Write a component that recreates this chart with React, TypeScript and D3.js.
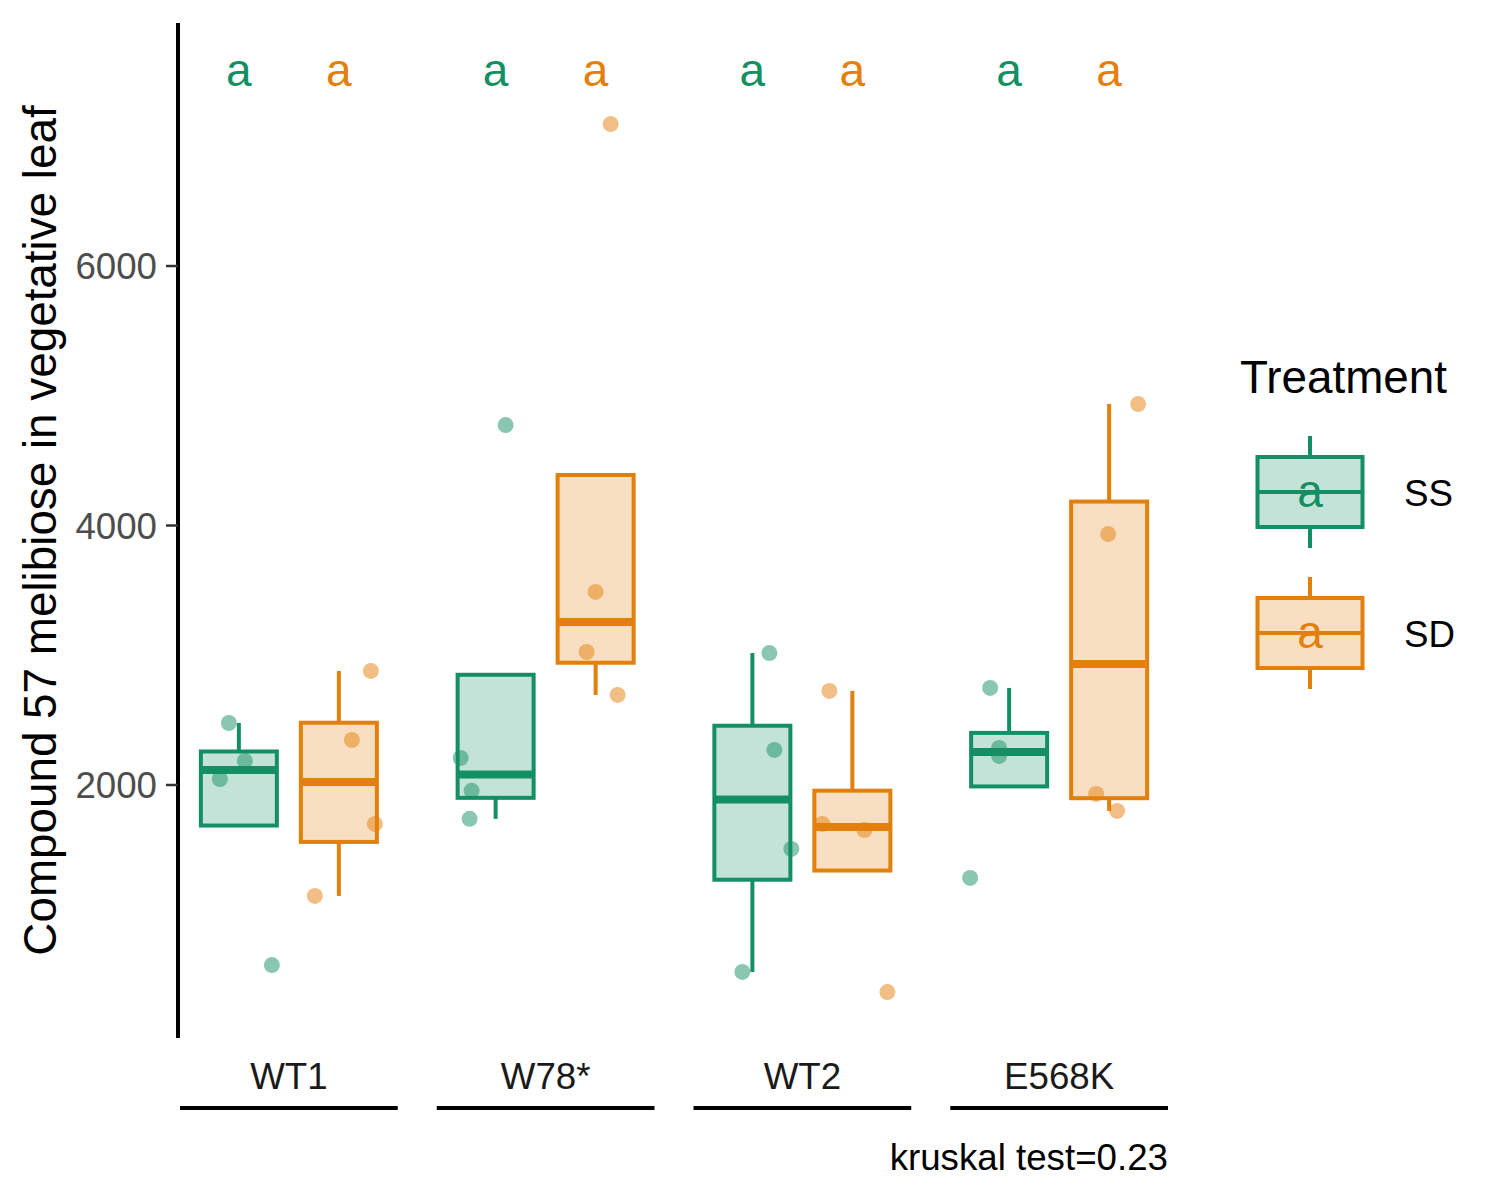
import React, { useEffect, useRef } from 'react';
import * as d3 from 'd3';

const genotypes = ['WT1', 'W78*', 'WT2', 'E568K'];
const treatments = ['SS', 'SD'];
const treatmentColors = ['#148F63', '#E37F0B'];
const yTicks = [2000, 4000, 6000];
const ssLetters = ['a', 'a', 'a', 'a'];
const sdLetters = ['a', 'a', 'a', 'a'];
const letterY = 7500;
const kruskalLabel = 'kruskal test=0.23';
const yTitle = 'Compound 57 melibiose in vegetative leaf';
const legendTitle = 'Treatment';

// four plants per genotype x treatment
const ssValues = [
  [2478, 2185, 2046, 612],
  [4774, 2208, 1955, 1739],
  [3017, 2270, 1507, 559],
  [2748, 2286, 2224, 1284],
];
const sdValues = [
  [2879, 2347, 1700, 1145],
  [3488, 3025, 2694, 7094],
  [2725, 1700, 1653, 404],
  [4936, 3934, 1931, 1800],
];
// horizontal jitter of each point, as a fraction of the dodge width
const ssJitter = [
  [-0.1, 0.06, -0.19, 0.33],
  [0.1, -0.35, -0.24, -0.26],
  [0.17, 0.22, 0.39, -0.1],
  [-0.19, -0.1, -0.1, -0.39],
];
const sdJitter = [
  [0.32, 0.13, 0.36, -0.24],
  [0.0, -0.09, 0.22, 0.15],
  [-0.23, -0.3, 0.12, 0.35],
  [0.29, -0.01, -0.13, 0.08],
];

const FONT = "'Liberation Sans', Arial, Helvetica, sans-serif";

function boxStats(values: number[]) {
  const s = values.slice().sort(d3.ascending);
  const q1 = d3.quantileSorted(s, 0.25) as number;
  const med = d3.quantileSorted(s, 0.5) as number;
  const q3 = d3.quantileSorted(s, 0.75) as number;
  const iqr = q3 - q1;
  const inside = s.filter(v => v >= q1 - 1.5 * iqr && v <= q3 + 1.5 * iqr);
  return { q1, med, q3, lo: d3.min(inside) as number, hi: d3.max(inside) as number };
}

export default function App() {
  const ref = useRef<SVGSVGElement>(null);

  useEffect(() => {
    const svg = d3.select(ref.current);
    svg.selectAll('*').remove();

    const x = d3.scaleBand<string>().domain(genotypes).range([180, 1168]).paddingInner(0.152);
    const dodge = d3
      .scaleBand<string>()
      .domain(treatments)
      .range([0, x.bandwidth()])
      .paddingInner(0)
      .paddingOuter(0.0886);
    const y = d3.scaleLinear().domain([50, 7873]).range([1038, 23]);
    const color = d3.scaleOrdinal<string, string>().domain(treatments).range(treatmentColors);
    const boxW = dodge.bandwidth() * 0.76;

    const groups = genotypes.flatMap((g, gi) =>
      treatments.map((t, ti) => {
        const vals = ti === 0 ? ssValues[gi] : sdValues[gi];
        const jit = ti === 0 ? ssJitter[gi] : sdJitter[gi];
        return {
          g,
          t,
          cx: (x(g) as number) + (dodge(t) as number) + dodge.bandwidth() / 2,
          stats: boxStats(vals),
          points: vals.map((v, i) => ({ v, j: jit[i] })),
          letter: ti === 0 ? ssLetters[gi] : sdLetters[gi],
        };
      })
    );

    // y axis
    const yAxis = svg.append('g');
    yAxis
      .append('line')
      .attr('x1', 178)
      .attr('x2', 178)
      .attr('y1', y.range()[0])
      .attr('y2', y.range()[1])
      .attr('stroke', '#000')
      .attr('stroke-width', 4);
    const ticks = yAxis.selectAll('g.tick').data(yTicks).enter().append('g');
    ticks
      .append('line')
      .attr('x1', 166)
      .attr('x2', 178)
      .attr('y1', d => y(d))
      .attr('y2', d => y(d))
      .attr('stroke', '#333')
      .attr('stroke-width', 2.5);
    ticks
      .append('text')
      .attr('x', 157)
      .attr('y', d => y(d))
      .attr('dy', '0.36em')
      .attr('text-anchor', 'end')
      .attr('font-family', FONT)
      .attr('font-size', 36.7)
      .attr('fill', '#4D4D4D')
      .text(d => d);

    svg
      .append('text')
      .attr('transform', `translate(56, ${(y.range()[0] + y.range()[1]) / 2}) rotate(-90)`)
      .attr('text-anchor', 'middle')
      .attr('font-family', FONT)
      .attr('font-size', 45.8)
      .attr('fill', '#000')
      .text(yTitle);

    // boxes
    const box = svg.selectAll('g.box').data(groups).enter().append('g');
    box
      .filter(d => d.stats.hi > d.stats.q3)
      .append('line')
      .attr('x1', d => d.cx)
      .attr('x2', d => d.cx)
      .attr('y1', d => y(d.stats.q3))
      .attr('y2', d => y(d.stats.hi))
      .attr('stroke', d => color(d.t))
      .attr('stroke-width', 4);
    box
      .filter(d => d.stats.lo < d.stats.q1)
      .append('line')
      .attr('x1', d => d.cx)
      .attr('x2', d => d.cx)
      .attr('y1', d => y(d.stats.q1))
      .attr('y2', d => y(d.stats.lo))
      .attr('stroke', d => color(d.t))
      .attr('stroke-width', 4);
    box
      .append('rect')
      .attr('x', d => d.cx - boxW / 2)
      .attr('width', boxW)
      .attr('y', d => y(d.stats.q3))
      .attr('height', d => y(d.stats.q1) - y(d.stats.q3))
      .attr('fill', d => color(d.t))
      .attr('fill-opacity', 0.25)
      .attr('stroke', d => color(d.t))
      .attr('stroke-width', 4);
    box
      .append('line')
      .attr('x1', d => d.cx - boxW / 2)
      .attr('x2', d => d.cx + boxW / 2)
      .attr('y1', d => y(d.stats.med))
      .attr('y2', d => y(d.stats.med))
      .attr('stroke', d => color(d.t))
      .attr('stroke-width', 8);

    // jittered points
    box
      .selectAll('circle')
      .data(d => d.points.map(p => ({ ...p, cx: d.cx, t: d.t })))
      .enter()
      .append('circle')
      .attr('cx', p => p.cx + p.j * dodge.step())
      .attr('cy', p => y(p.v))
      .attr('r', 8)
      .attr('fill', p => color(p.t))
      .attr('fill-opacity', 0.5);

    // letters
    svg
      .selectAll('text.letter')
      .data(groups)
      .enter()
      .append('text')
      .attr('x', d => d.cx)
      .attr('y', y(letterY))
      .attr('dy', '0.32em')
      .attr('text-anchor', 'middle')
      .attr('font-family', FONT)
      .attr('font-size', 46)
      .attr('fill', d => color(d.t))
      .text(d => d.letter);

    // genotype labels + underline
    const lab = svg.selectAll('g.lab').data(genotypes).enter().append('g');
    lab
      .append('text')
      .attr('x', d => (x(d) as number) + x.bandwidth() / 2)
      .attr('y', 1089)
      .attr('text-anchor', 'middle')
      .attr('font-family', FONT)
      .attr('font-size', 36.7)
      .attr('fill', '#1A1A1A')
      .text(d => d);
    lab
      .append('line')
      .attr('x1', d => x(d) as number)
      .attr('x2', d => (x(d) as number) + x.bandwidth())
      .attr('y1', 1108)
      .attr('y2', 1108)
      .attr('stroke', '#000')
      .attr('stroke-width', 4);

    svg
      .append('text')
      .attr('x', x.range()[1])
      .attr('y', 1170)
      .attr('text-anchor', 'end')
      .attr('font-family', FONT)
      .attr('font-size', 36.7)
      .attr('fill', '#000')
      .text(kruskalLabel);

    // legend
    const legend = svg.append('g');
    legend
      .append('text')
      .attr('x', 1240)
      .attr('y', 393)
      .attr('font-family', FONT)
      .attr('font-size', 45.8)
      .attr('fill', '#000')
      .text(legendTitle);
    const key = legend
      .selectAll('g.key')
      .data(treatments)
      .enter()
      .append('g')
      .attr('transform', (d, i) => `translate(1310, ${492 + i * 141})`);
    key
      .append('line')
      .attr('y1', -56)
      .attr('y2', 56)
      .attr('stroke', d => color(d))
      .attr('stroke-width', 4);
    key
      .append('rect')
      .attr('x', -52.5)
      .attr('y', -35)
      .attr('width', 105)
      .attr('height', 70)
      .attr('fill', '#fff')
      .attr('stroke', 'none');
    key
      .append('rect')
      .attr('x', -52.5)
      .attr('y', -35)
      .attr('width', 105)
      .attr('height', 70)
      .attr('fill', d => color(d))
      .attr('fill-opacity', 0.25)
      .attr('stroke', d => color(d))
      .attr('stroke-width', 4);
    key
      .append('line')
      .attr('x1', -52.5)
      .attr('x2', 52.5)
      .attr('stroke', d => color(d))
      .attr('stroke-width', 4);
    key
      .append('text')
      .attr('dy', '0.32em')
      .attr('text-anchor', 'middle')
      .attr('font-family', FONT)
      .attr('font-size', 46)
      .attr('fill', d => color(d))
      .text('a');
    key
      .append('text')
      .attr('x', 94)
      .attr('dy', '0.38em')
      .attr('font-family', FONT)
      .attr('font-size', 36.7)
      .attr('fill', '#000')
      .text(d => d);
  }, []);

  return (
    <svg
      ref={ref}
      width={1500}
      height={1200}
      style={{ position: 'absolute', left: 0, top: 0, background: '#fff' }}
    />
  );
}
